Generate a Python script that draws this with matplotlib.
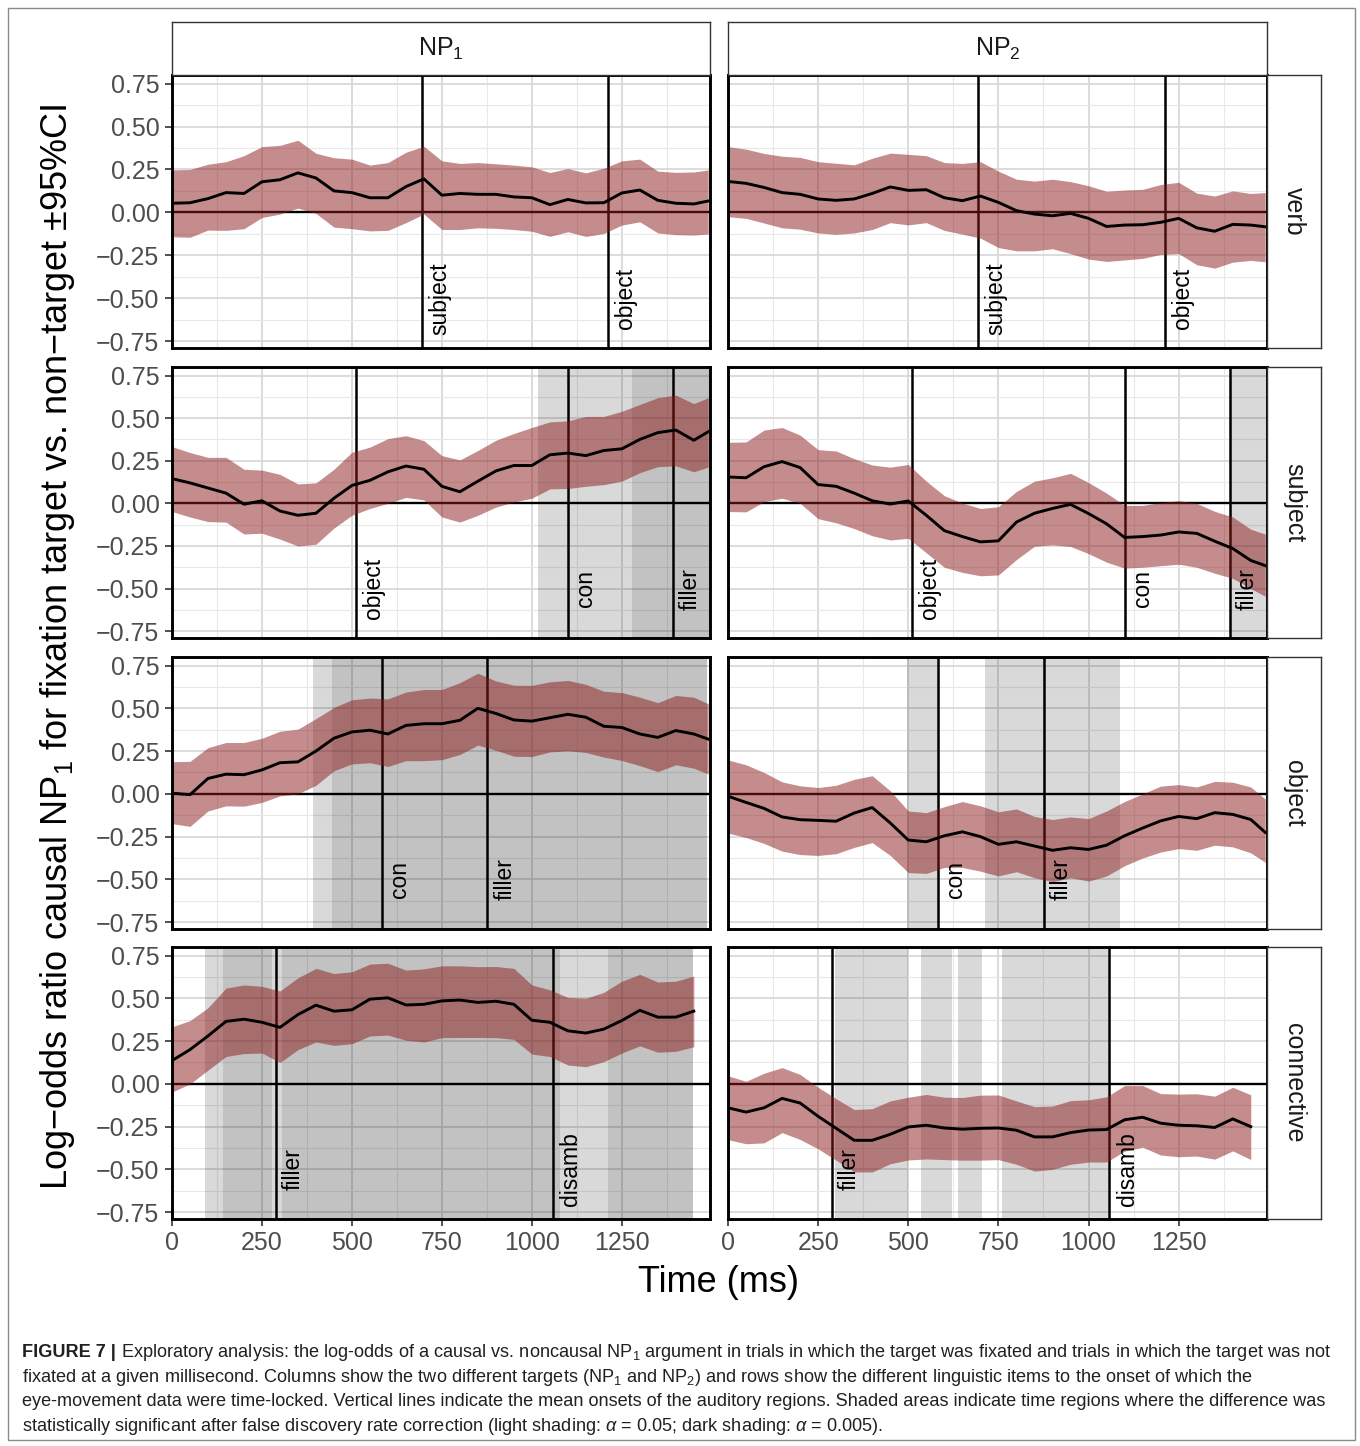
import numpy as np
import matplotlib.pyplot as plt
from matplotlib import font_manager
from matplotlib.patches import Rectangle

# sample times (ms)
time_ms = [0, 50, 100, 150, 200, 250, 300, 350, 400, 450, 500, 550, 600, 650, 700,
           750, 800, 850, 900, 950, 1000, 1050, 1100, 1150, 1200, 1250, 1300, 1350,
           1400, 1450, 1490]
time_conn = time_ms[:30]

# verb row
verb_np1_mean = [0.053, 0.056, 0.08, 0.115, 0.11, 0.178, 0.19, 0.23, 0.2, 0.125, 0.115, 0.085, 0.085, 0.15, 0.195,
                 0.1, 0.11, 0.105, 0.105, 0.09, 0.085, 0.045, 0.075, 0.055, 0.056, 0.113, 0.13, 0.07, 0.053, 0.049, 0.066]
verb_np1_hi = [0.247, 0.25, 0.28, 0.295, 0.33, 0.383, 0.39, 0.42, 0.344, 0.318, 0.31, 0.275, 0.29, 0.35, 0.385,
               0.3, 0.285, 0.29, 0.283, 0.275, 0.265, 0.232, 0.255, 0.23, 0.257, 0.3, 0.31, 0.24, 0.233, 0.235, 0.247]
verb_np1_lo = [-0.142, -0.145, -0.103, -0.105, -0.095, -0.03, -0.01, 0.025, -0.006, -0.086, -0.095, -0.108, -0.105, -0.06, -0.01,
               -0.1, -0.1, -0.09, -0.093, -0.1, -0.11, -0.14, -0.113, -0.14, -0.123, -0.074, -0.055, -0.12, -0.13, -0.132, -0.126]
verb_np2_mean = [0.18, 0.169, 0.145, 0.115, 0.105, 0.078, 0.07, 0.078, 0.11, 0.148, 0.128, 0.132, 0.085, 0.068, 0.095,
                 0.058, 0.01, -0.01, -0.02, -0.006, -0.035, -0.082, -0.074, -0.072, -0.058, -0.035, -0.09, -0.11, -0.07, -0.074, -0.084]
verb_np2_hi = [0.383, 0.368, 0.343, 0.327, 0.32, 0.295, 0.286, 0.277, 0.315, 0.345, 0.338, 0.33, 0.29, 0.285, 0.295,
               0.24, 0.193, 0.182, 0.193, 0.179, 0.155, 0.123, 0.13, 0.134, 0.162, 0.175, 0.112, 0.095, 0.125, 0.11, 0.115]
verb_np2_lo = [-0.025, -0.035, -0.062, -0.09, -0.098, -0.12, -0.128, -0.12, -0.1, -0.06, -0.073, -0.06, -0.105, -0.127, -0.15,
               -0.205, -0.224, -0.224, -0.212, -0.24, -0.272, -0.286, -0.277, -0.268, -0.245, -0.24, -0.305, -0.325, -0.29, -0.28, -0.288]

# subject row
subj_np1_mean = [0.145, 0.12, 0.09, 0.06, -0.005, 0.015, -0.045, -0.07, -0.058, 0.03, 0.105, 0.135, 0.185, 0.219, 0.2,
                 0.1, 0.068, 0.13, 0.19, 0.222, 0.222, 0.285, 0.295, 0.28, 0.31, 0.32, 0.375, 0.415, 0.43, 0.37, 0.42]
subj_np1_hi = [0.333, 0.298, 0.27, 0.27, 0.2, 0.195, 0.17, 0.114, 0.12, 0.2, 0.3, 0.33, 0.38, 0.397, 0.368,
               0.28, 0.255, 0.31, 0.37, 0.41, 0.445, 0.478, 0.484, 0.51, 0.51, 0.54, 0.58, 0.62, 0.635, 0.585, 0.62]
subj_np1_lo = [-0.048, -0.08, -0.107, -0.11, -0.18, -0.175, -0.21, -0.25, -0.24, -0.145, -0.07, -0.03, 0.0, 0.035, 0.02,
               -0.08, -0.11, -0.07, -0.022, 0.008, 0.03, 0.085, 0.087, 0.1, 0.11, 0.13, 0.18, 0.215, 0.22, 0.185, 0.213]
subj_np2_mean = [0.155, 0.15, 0.215, 0.245, 0.21, 0.11, 0.1, 0.06, 0.015, -0.004, 0.014, -0.07, -0.16, -0.195, -0.226,
                 -0.22, -0.11, -0.058, -0.03, -0.006, -0.06, -0.12, -0.2, -0.195, -0.186, -0.168, -0.176, -0.222, -0.265, -0.335, -0.365]
subj_np2_hi = [0.358, 0.36, 0.43, 0.445, 0.4, 0.315, 0.307, 0.262, 0.225, 0.212, 0.228, 0.13, 0.045, 0.002, -0.03,
               -0.02, 0.07, 0.13, 0.15, 0.176, 0.122, 0.06, -0.012, -0.012, 0.005, 0.016, 0.0, -0.047, -0.08, -0.152, -0.18]
subj_np2_lo = [-0.048, -0.05, 0.01, 0.03, 0.0, -0.09, -0.114, -0.148, -0.19, -0.215, -0.205, -0.29, -0.375, -0.405, -0.425,
               -0.42, -0.33, -0.252, -0.243, -0.253, -0.295, -0.345, -0.38, -0.375, -0.366, -0.357, -0.375, -0.41, -0.44, -0.5, -0.545]

# object row
obj_np1_mean = [0.004, -0.005, 0.09, 0.115, 0.112, 0.14, 0.182, 0.187, 0.25, 0.325, 0.362, 0.372, 0.35, 0.4, 0.41,
                0.41, 0.43, 0.5, 0.47, 0.432, 0.425, 0.445, 0.465, 0.448, 0.395, 0.388, 0.35, 0.33, 0.37, 0.35, 0.32]
obj_np1_hi = [0.188, 0.19, 0.27, 0.3, 0.3, 0.325, 0.366, 0.378, 0.44, 0.505, 0.55, 0.56, 0.555, 0.595, 0.61,
              0.61, 0.65, 0.705, 0.66, 0.635, 0.634, 0.655, 0.663, 0.64, 0.6, 0.592, 0.565, 0.533, 0.575, 0.565, 0.527]
obj_np1_lo = [-0.174, -0.19, -0.1, -0.07, -0.072, -0.05, -0.012, 0.0, 0.05, 0.135, 0.175, 0.182, 0.16, 0.194, 0.194,
              0.2, 0.23, 0.285, 0.255, 0.22, 0.218, 0.245, 0.252, 0.242, 0.215, 0.195, 0.165, 0.13, 0.17, 0.15, 0.116]
obj_np2_mean = [-0.014, -0.05, -0.085, -0.135, -0.151, -0.155, -0.16, -0.112, -0.08, -0.17, -0.27, -0.28, -0.245, -0.222, -0.25,
                -0.295, -0.28, -0.305, -0.33, -0.315, -0.325, -0.3, -0.245, -0.2, -0.158, -0.132, -0.145, -0.11, -0.12, -0.15, -0.225]
obj_np2_hi = [0.198, 0.17, 0.125, 0.07, 0.047, 0.037, 0.05, 0.085, 0.106, 0.018, -0.1, -0.11, -0.075, -0.045, -0.07,
              -0.105, -0.088, -0.132, -0.15, -0.135, -0.145, -0.1, -0.045, 0.0, 0.045, 0.054, 0.04, 0.073, 0.068, 0.04, -0.03]
obj_np2_lo = [-0.229, -0.255, -0.29, -0.335, -0.355, -0.36, -0.35, -0.313, -0.285, -0.36, -0.46, -0.465, -0.43, -0.43, -0.452,
              -0.48, -0.455, -0.49, -0.514, -0.49, -0.51, -0.48, -0.42, -0.375, -0.34, -0.32, -0.33, -0.3, -0.31, -0.345, -0.4]

# connective row (ends at 1450 ms)
conn_np1_mean = [0.136, 0.2, 0.28, 0.365, 0.378, 0.36, 0.33, 0.405, 0.46, 0.425, 0.433, 0.495, 0.503, 0.461, 0.465,
                 0.485, 0.49, 0.476, 0.483, 0.465, 0.372, 0.36, 0.31, 0.297, 0.32, 0.37, 0.43, 0.39, 0.39, 0.425]
conn_np1_hi = [0.333, 0.37, 0.445, 0.56, 0.578, 0.57, 0.543, 0.62, 0.675, 0.645, 0.655, 0.7, 0.705, 0.665, 0.672,
               0.69, 0.69, 0.685, 0.686, 0.675, 0.578, 0.55, 0.505, 0.5, 0.535, 0.6, 0.64, 0.595, 0.6, 0.63]
conn_np1_lo = [-0.048, 0.0, 0.08, 0.16, 0.177, 0.18, 0.125, 0.2, 0.245, 0.225, 0.235, 0.28, 0.285, 0.255, 0.245,
               0.27, 0.271, 0.271, 0.27, 0.26, 0.174, 0.16, 0.11, 0.1, 0.13, 0.18, 0.222, 0.185, 0.19, 0.217]
conn_np2_mean = [-0.14, -0.165, -0.14, -0.085, -0.112, -0.19, -0.26, -0.33, -0.33, -0.295, -0.252, -0.242, -0.258, -0.265, -0.26,
                 -0.258, -0.271, -0.31, -0.31, -0.285, -0.27, -0.267, -0.21, -0.195, -0.23, -0.242, -0.245, -0.255, -0.205, -0.25]
conn_np2_hi = [0.047, 0.015, 0.062, 0.095, 0.055, -0.02, -0.087, -0.15, -0.145, -0.1, -0.078, -0.062, -0.078, -0.08, -0.066,
               -0.065, -0.1, -0.133, -0.13, -0.098, -0.093, -0.076, -0.01, -0.01, -0.057, -0.06, -0.058, -0.072, -0.02, -0.064]
conn_np2_lo = [-0.326, -0.35, -0.345, -0.285, -0.325, -0.38, -0.446, -0.515, -0.515, -0.467, -0.445, -0.439, -0.443, -0.446, -0.446,
               -0.443, -0.47, -0.51, -0.5, -0.47, -0.457, -0.457, -0.393, -0.37, -0.416, -0.426, -0.422, -0.44, -0.392, -0.442]

# mean onsets of the auditory regions (ms) per row
verb_onsets = [694, 1211]
verb_onset_labels = ['subject', 'object']
subj_onsets = [511, 1101, 1391]
subj_onset_labels = ['object', 'con', 'filler']
obj_onsets = [583, 876]
obj_onset_labels = ['con', 'filler']
conn_onsets = [288, 1058]
conn_onset_labels = ['filler', 'disamb']

# significant regions (ms): light = alpha .05, dark = alpha .005
subj_np1_light = [(1017, 1495)]
subj_np1_dark = [(1277, 1495)]
subj_np2_light = [(1393, 1495)]
obj_np1_light = [(392, 1487)]
obj_np1_dark = [(444, 1487)]
obj_np2_light = [(497, 585), (714, 1088)]
conn_np1_light = [(92, 1448)]
conn_np1_dark = [(143, 277), (306, 1078), (1211, 1448)]
conn_np2_light = [(297, 498), (534, 622), (639, 705), (761, 1055)]

col_titles = ['NP$_1$', 'NP$_2$']
row_titles = ['verb', 'subject', 'object', 'connective']
x_ticks = [0, 250, 500, 750, 1000, 1250]
y_ticks = [-0.75, -0.5, -0.25, 0.0, 0.25, 0.5, 0.75]
y_tick_labels = ['\u22120.75', '\u22120.50', '\u22120.25', '0.00', '0.25', '0.50', '0.75']

# ---------------------------------------------------------------
plt.rcParams['font.family'] = ['Liberation Sans', 'DejaVu Sans']
plt.rcParams['mathtext.fontset'] = 'custom'
plt.rcParams['mathtext.rm'] = 'Liberation Sans'
plt.rcParams['mathtext.it'] = 'Liberation Sans:italic'
plt.rcParams['mathtext.bf'] = 'Liberation Sans:bold'

W, H, DPI = 1360, 1446, 100
fig = plt.figure(figsize=(W / DPI, H / DPI), dpi=DPI)
fig.patch.set_facecolor('white')


def px_axes(x0, y0, x1, y1):
    return fig.add_axes([x0 / W, 1 - y1 / H, (x1 - x0) / W, (y1 - y0) / H])


col_x = [(172, 710), (728, 1267)]
row_y = [(75, 348), (367, 638), (657, 929), (947, 1219)]

panels = [
    [(time_ms, verb_np1_mean, verb_np1_lo, verb_np1_hi, [], []),
     (time_ms, verb_np2_mean, verb_np2_lo, verb_np2_hi, [], [])],
    [(time_ms, subj_np1_mean, subj_np1_lo, subj_np1_hi, subj_np1_light, subj_np1_dark),
     (time_ms, subj_np2_mean, subj_np2_lo, subj_np2_hi, subj_np2_light, [])],
    [(time_ms, obj_np1_mean, obj_np1_lo, obj_np1_hi, obj_np1_light, obj_np1_dark),
     (time_ms, obj_np2_mean, obj_np2_lo, obj_np2_hi, obj_np2_light, [])],
    [(time_conn, conn_np1_mean, conn_np1_lo, conn_np1_hi, conn_np1_light, conn_np1_dark),
     (time_conn, conn_np2_mean, conn_np2_lo, conn_np2_hi, conn_np2_light, [])],
]
onsets = [(verb_onsets, verb_onset_labels), (subj_onsets, subj_onset_labels),
          (obj_onsets, obj_onset_labels), (conn_onsets, conn_onset_labels)]

for r in range(4):
    for c in range(2):
        t, mean, lo, hi, light, dark = panels[r][c]
        ax = px_axes(col_x[c][0], row_y[r][0], col_x[c][1], row_y[r][1])
        ax.set_xlim(0, 1495)
        ax.set_ylim(-0.79, 0.80)
        ax.set_xticks(x_ticks)
        ax.set_xticks(np.arange(125, 1495, 250), minor=True)
        ax.set_yticks(y_ticks)
        ax.set_yticks(np.arange(-0.625, 0.7, 0.25), minor=True)
        ax.set_axisbelow(True)
        ax.grid(which='major', color='#d6d6d6', lw=1.2)
        ax.grid(which='minor', color='#e8e8e8', lw=0.8)

        for a, b in light:
            ax.axvspan(a, b, color='black', alpha=0.15, lw=0, zorder=1)
        for a, b in dark:
            ax.axvspan(a, b, color='black', alpha=0.10, lw=0, zorder=1.1)

        ax.axhline(0, color='black', lw=1.7, zorder=2)
        vx, vlab = onsets[r]
        for v, lab in zip(vx, vlab):
            ax.axvline(v, color='black', lw=1.8, zorder=2)
            ax.annotate(lab, xy=(v, -0.5), xytext=(4.5, 0), textcoords='offset points',
                        rotation=90, ha='left', va='center', fontsize=16.5, color='black', zorder=6)

        ax.fill_between(t, lo, hi, color='#8b1a1a', alpha=0.5, lw=0, zorder=3)
        ax.plot(t, mean, color='black', lw=2.1, zorder=4, solid_joinstyle='round')

        for s in ax.spines.values():
            s.set_linewidth(2.1)
            s.set_color('black')
            s.set_zorder(7)

        ax.tick_params(which='major', length=5, width=1.2, color='#333333',
                       labelsize=18, labelcolor='#4d4d4d', pad=4)
        ax.tick_params(which='minor', length=0)
        ax.set_yticklabels(y_tick_labels)
        ax.set_xticklabels([str(v) for v in x_ticks])
        if c == 1:
            ax.tick_params(left=False, labelleft=False)
        if r < 3:
            ax.tick_params(bottom=False, labelbottom=False)

# strips
for c in range(2):
    sa = px_axes(col_x[c][0], 22, col_x[c][1], 75)
    sa.set_xticks([]); sa.set_yticks([])
    for s in sa.spines.values():
        s.set_linewidth(1.0); s.set_color('#333333')
    sa.text(0.5, 0.5, col_titles[c], ha='center', va='center', fontsize=18,
            color='#1a1a1a', transform=sa.transAxes)
for r in range(4):
    sa = px_axes(1267, row_y[r][0], 1321, row_y[r][1])
    sa.set_xticks([]); sa.set_yticks([])
    for s in sa.spines.values():
        s.set_linewidth(1.0); s.set_color('#333333')
    sa.text(0.5, 0.5, row_titles[r], ha='center', va='center', rotation=-90,
            fontsize=18, color='#1a1a1a', transform=sa.transAxes)

# axis titles
fig.text(58 / W, 1 - 647 / H,
         'Log\u2212odds ratio causal NP$_1$ for fixation target vs. non\u2212target \u00b195%CI',
         rotation=90, ha='center', va='center', fontsize=26, color='black')
fig.text(718 / W, 1 - 1283 / H, 'Time (ms)', ha='center', va='center', fontsize=26, color='black')

# outer frame
fig.patches.append(Rectangle((8 / W, 1 - 1440 / H), (1355 - 8) / W, (1440 - 8) / H,
                             transform=fig.transFigure, fill=False, ec='#8a8a8a', lw=1.0))

# caption
names = {f.name for f in font_manager.fontManager.ttflist}
cap_font = 'Liberation Sans Narrow' if 'Liberation Sans Narrow' in names else 'Liberation Sans'
cap_lines = [
    ' Exploratory analysis: the log-odds of a causal vs. noncausal NP$_1$ argument in trials in which the target was fixated and trials in which the target was not',
    'fixated at a given millisecond. Columns show the two different targets (NP$_1$ and NP$_2$) and rows show the different linguistic items to the onset of which the',
    'eye-movement data were time-locked. Vertical lines indicate the mean onsets of the auditory regions. Shaded areas indicate time regions where the difference was',
    'statistically significant after false discovery rate correction (light shading: $\\alpha$ = 0.05; dark shading: $\\alpha$ = 0.005).',
]
cap_base = [1357, 1382, 1406, 1431]
renderer = fig.canvas.get_renderer()

head = fig.text(22 / W, 1 - cap_base[0] / H, 'FIGURE 7 |', fontsize=12, fontweight='bold',
                family=cap_font, color='#231f20', va='baseline', ha='left')
first = fig.text(22 / W, 1 - cap_base[0] / H, cap_lines[0], fontsize=12,
                 family=cap_font, color='#231f20', va='baseline', ha='left')
w_head = head.get_window_extent(renderer).width
w_first = first.get_window_extent(renderer).width
size = 12 * (1330 - 22) / (w_head + w_first)
head.set_fontsize(size)
first.set_fontsize(size)
w_head = head.get_window_extent(renderer).width
first.set_x((22 + w_head) / W)
for line, yb in zip(cap_lines[1:], cap_base[1:]):
    fig.text(22 / W, 1 - yb / H, line, fontsize=size, family=cap_font,
             color='#231f20', va='baseline', ha='left')

fig.savefig('out.png', dpi=DPI, facecolor='white')
